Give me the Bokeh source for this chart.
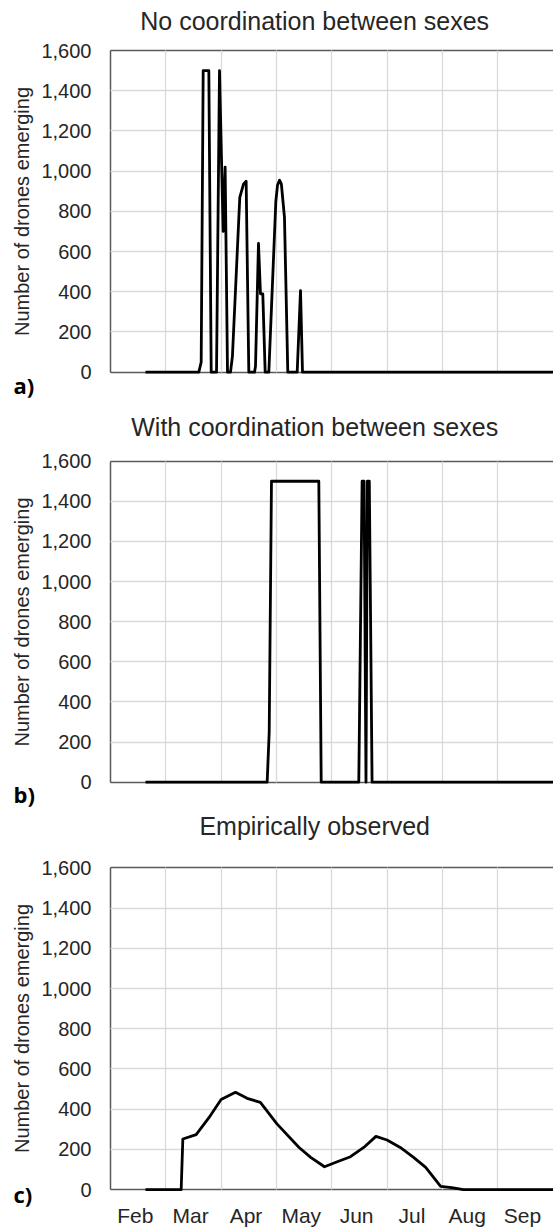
from bokeh.plotting import figure
from bokeh.models import (FixedTicker, NumeralTickFormatter, Label, Range1d,
                          LinearAxis, Grid)
from bokeh.layouts import column
from bokeh.embed import file_html
from bokeh.resources import INLINE

# ---------------- data (x = months since 1 Feb) ----------------
months = ["Feb", "Mar", "Apr", "May", "Jun", "Jul", "Aug", "Sep"]
y_ticks = [0, 200, 400, 600, 800, 1000, 1200, 1400, 1600]

titles = ["No coordination between sexes",
          "With coordination between sexes",
          "Empirically observed"]
tags = ["a)", "b)", "c)"]

a_x = [0.633, 1.597, 1.640, 1.676, 1.778, 1.821, 1.917, 1.971, 2.037, 2.073,
       2.116, 2.170, 2.205, 2.338, 2.405, 2.453, 2.501, 2.604, 2.622, 2.676,
       2.712, 2.754, 2.797, 2.863, 2.990, 3.020, 3.056, 3.090, 3.146, 3.206,
       3.376, 3.436, 3.472, 8.5]
a_y = [0, 0, 50, 1500, 1500, 0, 0, 1500, 700, 1020,
       0, 0, 80, 870, 935, 950, 0, 0, 30, 640,
       390, 390, 0, 0, 850, 930, 955, 935, 770, 0,
       0, 406, 0, 0]

b_x = [0.633, 2.833, 2.870, 2.911, 3.767, 3.810, 4.490, 4.550, 4.585, 4.620,
       4.645, 4.680, 4.730, 8.5]
b_y = [0, 0, 250, 1500, 1500, 0, 0, 1500, 1500, 0,
       1500, 1500, 0, 0]

c_x = [0.633, 1.278, 1.308, 1.549, 1.780, 2.000, 2.260, 2.470, 2.710, 3.010,
       3.410, 3.620, 3.870, 4.100, 4.340, 4.580, 4.800, 5.000, 5.240, 5.480,
       5.700, 5.970, 6.170, 6.380, 8.5]
c_y = [0, 0, 252, 274, 358, 448, 484, 454, 434, 327,
       210, 161, 114, 139, 164, 210, 265, 247, 210, 161,
       111, 17, 10, 0, 0]

# ---------------- styling / layout ----------------
FONT = "Liberation Sans"
TXT = "#262626"
AX = "#595959"
GRID = "#d9d9d9"
W = 553
AX_LEFT = 110.0      # pixel position of the value axis
PX_MONTH = 55.3      # pixels per month
X0 = -AX_LEFT / PX_MONTH
X1 = (W - AX_LEFT) / PX_MONTH


def make_panel(xs, ys, title, tag, fig_top, fig_bot, y_top, y_zero,
               title_mid, tag_mid, show_months):
    h = int(round(fig_bot - fig_top))
    py = 1600.0 / (y_zero - y_top)          # data units per pixel
    yr0 = -(fig_bot - y_zero) * py
    yr1 = 1600 + (y_top - fig_top) * py
    p = figure(width=W, height=h, x_range=Range1d(X0, X1),
               y_range=Range1d(yr0, yr1), output_backend="svg",
               toolbar_location=None, x_axis_location=None,
               y_axis_location=None, min_border=0,
               outline_line_color=None, background_fill_color="white",
               border_fill_color="white")
    for g in p.grid:
        g.visible = False

    # grids limited to the plotting area
    p.add_layout(Grid(dimension=0, ticker=FixedTicker(ticks=list(range(1, 8))),
                      cross_bounds=(0, 1600), grid_line_color=GRID,
                      grid_line_width=1.3))
    p.add_layout(Grid(dimension=1, ticker=FixedTicker(ticks=y_ticks[1:-1]),
                      cross_bounds=(0, X1 + 1), grid_line_color=GRID,
                      grid_line_width=1.3))

    # value axis
    ya = LinearAxis(fixed_location=0, bounds=(0, 1600),
                    ticker=FixedTicker(ticks=y_ticks),
                    formatter=NumeralTickFormatter(format="0,0"),
                    axis_label="Number of drones emerging")
    ya.major_tick_line_color = None
    ya.minor_tick_line_color = None
    ya.major_tick_out = 0
    ya.major_tick_in = 0
    ya.major_label_standoff = 19
    ya.major_label_text_font = FONT
    ya.major_label_text_font_size = "20px"
    ya.major_label_text_color = TXT
    ya.axis_label_text_font = FONT
    ya.axis_label_text_font_size = "20px"
    ya.axis_label_text_font_style = "normal"
    ya.axis_label_text_color = TXT
    ya.axis_label_standoff = 5
    ya.axis_line_color = AX
    ya.axis_line_width = 1.5
    ya.level = "underlay"
    p.add_layout(ya, "left")

    # time axis
    if show_months:
        ticks = [k + 0.45 for k in range(len(months))]
    else:
        ticks = []
    xa = LinearAxis(fixed_location=0, bounds=(0, X1 + 1),
                    ticker=FixedTicker(ticks=ticks))
    if show_months:
        xa.major_label_overrides = {t: m for t, m in zip(ticks, months)}
    xa.major_tick_line_color = None
    xa.minor_tick_line_color = None
    xa.major_tick_out = 0
    xa.major_tick_in = 0
    xa.major_label_standoff = 14
    xa.major_label_text_font = FONT
    xa.major_label_text_font_size = "21px"
    xa.major_label_text_color = TXT
    xa.axis_line_color = AX
    xa.axis_line_width = 1.5
    xa.level = "underlay"
    p.add_layout(xa, "below")

    # top frame line
    ta = LinearAxis(fixed_location=1600, bounds=(0, X1 + 1),
                    ticker=FixedTicker(ticks=[]))
    ta.major_tick_line_color = None
    ta.minor_tick_line_color = None
    ta.major_label_text_font_size = "0px"
    ta.axis_line_color = AX
    ta.axis_line_width = 1.5
    ta.level = "underlay"
    p.add_layout(ta, "above")

    p.line(xs, ys, line_color="black", line_width=2.8, line_join="round")

    p.add_layout(Label(x=(314.2 - AX_LEFT) / PX_MONTH,
                       y=1600 + (y_top - title_mid) * py,
                       text=title, text_align="center",
                       text_baseline="middle", text_font=FONT,
                       text_font_size="25px", text_color=TXT))
    p.add_layout(Label(x=(13.0 - AX_LEFT) / PX_MONTH,
                       y=-(tag_mid - y_zero) * py,
                       text=tag, text_align="left",
                       text_baseline="middle", text_font="Open Sans",
                       text_font_size="22px", text_font_style="bold",
                       text_color="black"))
    return p


p1 = make_panel(a_x, a_y, titles[0], tags[0], 0, 400, 50.0, 371.7,
                20.6, 384.0, False)
p2 = make_panel(b_x, b_y, titles[1], tags[1], 400, 809, 460.7, 781.7,
                426.8, 793.0, False)
p3 = make_panel(c_x, c_y, titles[2], tags[2], 809, 1228, 867.3, 1189.2,
                825.3, 1193.0, True)

layout = column(p1, p2, p3, spacing=0)
open("out.html", "w").write(file_html(layout, INLINE))
